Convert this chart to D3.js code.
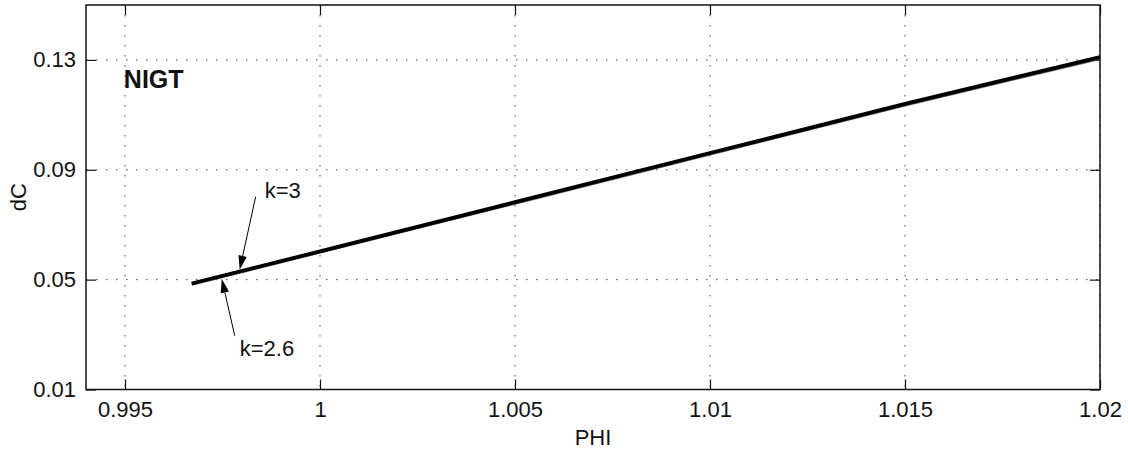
<!DOCTYPE html>
<html>
<head>
<meta charset="utf-8">
<script src="https://cdn.jsdelivr.net/npm/d3@7"></script>
<style>
  body { margin: 0; background: #fff; }
  svg text { font-family: "Liberation Sans", Arial, sans-serif; fill: #111; }
</style>
</head>
<body>
<div id="chart"></div>
<script>
// dC against PHI, two k values that almost sit on top of each other
var phi    = [0.99671, 1.0, 1.005, 1.01, 1.015, 1.02];
var dC_k3  = [0.0486, 0.0603, 0.0782, 0.0961, 0.1140, 0.1310];
var dC_k26 = [0.0484, 0.0601, 0.0779, 0.0958, 0.1137, 0.1306];

var xTicks = [0.995, 1, 1.005, 1.01, 1.015, 1.02];
var yTicks = [0.01, 0.05, 0.09, 0.13];

var xLabel = "PHI", yLabel = "dC", tag = "NIGT";

(function () {
    var W = 1128, H = 456;
    var margin = { top: 5, right: 28, bottom: 66.5, left: 86 };
    var width = W - margin.left - margin.right,
        height = H - margin.top - margin.bottom;

    var svg = d3.select("#chart").append("svg")
        .attr("width", W).attr("height", H);
    var g = svg.append("g")
        .attr("transform", "translate(" + margin.left + "," + margin.top + ")");

    var x = d3.scaleLinear().domain([0.994, 1.02]).range([0, width]);
    var y = d3.scaleLinear().domain([0.01, 0.15]).range([height, 0]);

    // dotted grid
    g.selectAll(".vgrid").data(xTicks).enter().append("line")
        .attr("x1", function (d) { return x(d); }).attr("x2", function (d) { return x(d); })
        .attr("y1", 0).attr("y2", height)
        .attr("stroke", "#444").attr("stroke-width", 1)
        .attr("stroke-dasharray", "1.5,8.5");
    g.selectAll(".hgrid").data(yTicks).enter().append("line")
        .attr("y1", function (d) { return y(d); }).attr("y2", function (d) { return y(d); })
        .attr("x1", 0).attr("x2", width)
        .attr("stroke", "#444").attr("stroke-width", 1)
        .attr("stroke-dasharray", "1.5,8.5");

    // axes, inward ticks like matlab
    var fmt = function (d) { return String(d); };
    var xa = g.append("g").attr("transform", "translate(0," + height + ")")
        .call(d3.axisBottom(x).tickValues(xTicks).tickFormat(fmt).tickSize(-10).tickPadding(12));
    var ya = g.append("g")
        .call(d3.axisLeft(y).tickValues(yTicks).tickFormat(fmt).tickSize(-10).tickPadding(10));
    g.append("g").call(d3.axisTop(x).tickValues(xTicks).tickFormat("").tickSize(-10));
    g.append("g").attr("transform", "translate(" + width + ",0)")
        .call(d3.axisRight(y).tickValues(yTicks).tickFormat("").tickSize(-10));

    g.selectAll(".domain").remove();
    g.selectAll(".tick line").attr("stroke", "#111").attr("stroke-width", 1.2);
    xa.selectAll("text").style("font-size", "22px").attr("fill", "#111");
    ya.selectAll("text").style("font-size", "22px").attr("fill", "#111");

    g.append("rect").attr("width", width).attr("height", height)
        .attr("fill", "none").attr("stroke", "#111").attr("stroke-width", 1.5);

    // curves
    var pts26 = phi.map(function (p, i) { return [p, dC_k26[i]]; });
    var pts3  = phi.map(function (p, i) { return [p, dC_k3[i]]; });
    var line = d3.line().x(function (d) { return x(d[0]); }).y(function (d) { return y(d[1]); });

    g.append("path").datum(pts26).attr("d", line)
        .attr("fill", "none").attr("stroke", "#666").attr("stroke-width", 3.5);
    g.append("path").datum(pts3).attr("d", line)
        .attr("fill", "none").attr("stroke", "#000").attr("stroke-width", 3.8);

    // arrows with labels
    var interp = function (arr, p) {
        var i = d3.bisectLeft(phi, p);
        i = Math.max(1, Math.min(phi.length - 1, i));
        var t = (p - phi[i - 1]) / (phi[i] - phi[i - 1]);
        return arr[i - 1] + t * (arr[i] - arr[i - 1]);
    };
    var notes = [
        { text: "k=3",   p: 0.99794, vals: dC_k3,  off: -1.8, dx: 16,  dy: -73, tx: 25, ty: -72 },
        { text: "k=2.6", p: 0.99748, vals: dC_k26, off: 2.2,  dx: 13,  dy: 57,  tx: 18, ty: 77 }
    ];
    notes.forEach(function (n) {
        var tipX = x(n.p), tipY = y(interp(n.vals, n.p)) + n.off;
        var tailX = tipX + n.dx, tailY = tipY + n.dy;
        var ang = Math.atan2(tipY - tailY, tipX - tailX);
        var L = 14, w = 4.2;
        var bx = tipX - L * Math.cos(ang), by = tipY - L * Math.sin(ang);
        g.append("line")
            .attr("x1", tailX).attr("y1", tailY).attr("x2", bx).attr("y2", by)
            .attr("stroke", "#000").attr("stroke-width", 1);
        g.append("path")
            .attr("d", "M" + tipX + "," + tipY +
                "L" + (bx + w * Math.sin(ang)) + "," + (by - w * Math.cos(ang)) +
                "L" + (bx - w * Math.sin(ang)) + "," + (by + w * Math.cos(ang)) + "Z")
            .attr("fill", "#000");
        g.append("text").attr("x", tipX + n.tx).attr("y", tipY + n.ty)
            .style("font-size", "22px").text(n.text);
    });

    // NIGT tag
    g.append("text").attr("x", x(0.99497)).attr("y", 88 - margin.top)
        .style("font-size", "25px").style("font-weight", "bold").text(tag);

    // axis titles
    svg.append("text").attr("x", margin.left + width / 2).attr("y", 445)
        .attr("text-anchor", "middle").style("font-size", "22px").text(xLabel);
    svg.append("text")
        .attr("transform", "translate(26," + (margin.top + height / 2) + ") rotate(-90)")
        .attr("text-anchor", "middle").style("font-size", "22px").text(yLabel);
})();
</script>
</body>
</html>
